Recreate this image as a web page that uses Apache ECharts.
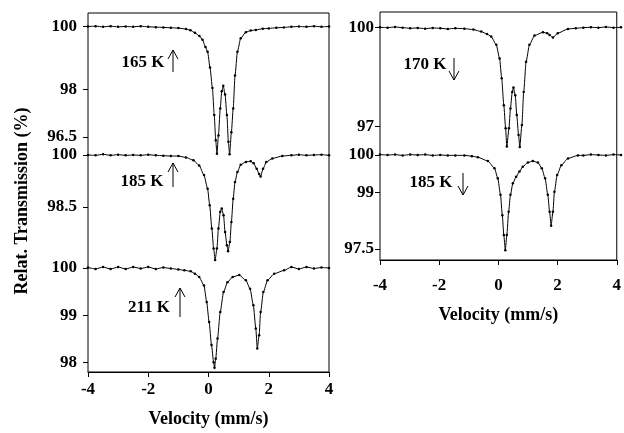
<!DOCTYPE html>
<html>
<head>
<meta charset="utf-8">
<script src="https://cdn.jsdelivr.net/npm/echarts@6/dist/echarts.min.js"></script>
<style>
  html, body { margin: 0; padding: 0; background: #fff; }
  #chart { width: 624px; height: 433px; }
</style>
</head>
<body>
<div id="chart"></div>
<script>
// velocity (mm/s) and relative transmission (%)
var v165 = [-4, -3.75, -3.5, -3.25, -3, -2.75, -2.5, -2.25, -2, -1.75, -1.5, -1.25, -1, -0.75, -0.6, -0.45, -0.3, -0.2, -0.1, -0.03, 0.05, 0.13, 0.19, 0.24, 0.28, 0.33, 0.39, 0.44, 0.49, 0.55, 0.61, 0.66, 0.7, 0.76, 0.82, 0.88, 0.96, 1.07, 1.24, 1.4, 1.57, 1.8, 2.0, 2.25, 2.5, 2.75, 3, 3.25, 3.5, 3.75, 4];
var t165 = [100.0, 100.01, 99.99, 100.01, 99.99, 100.0, 99.99, 100.01, 99.99, 99.98, 99.97, 99.96, 99.95, 99.92, 99.88, 99.8, 99.7, 99.58, 99.35, 99.2, 98.7, 98.05, 97.2, 96.4, 95.97, 96.55, 97.4, 97.95, 98.12, 97.85, 97.2, 96.35, 95.95, 96.65, 97.4, 98.45, 99.2, 99.63, 99.82, 99.87, 99.89, 99.93, 99.94, 99.96, 99.97, 99.99, 100.0, 99.99, 100.01, 99.99, 100.0];

var v185a = [-4, -3.75, -3.5, -3.25, -3, -2.75, -2.5, -2.25, -2, -1.75, -1.5, -1.25, -1, -0.75, -0.5, -0.31, -0.15, -0.03, 0.04, 0.11, 0.17, 0.22, 0.28, 0.33, 0.39, 0.44, 0.5, 0.55, 0.61, 0.65, 0.71, 0.76, 0.82, 0.88, 0.96, 1.07, 1.24, 1.4, 1.5, 1.6, 1.68, 1.73, 1.81, 1.92, 2.12, 2.45, 2.75, 3, 3.25, 3.5, 3.75, 4];
var t185a = [100.0, 99.99, 100.02, 99.99, 100.01, 99.99, 100.0, 99.99, 100.01, 99.99, 99.98, 99.97, 99.97, 99.93, 99.85, 99.7, 99.42, 99.03, 98.55, 97.88, 97.3, 96.97, 97.3, 97.88, 98.36, 98.46, 98.26, 97.78, 97.4, 97.22, 97.49, 98.07, 98.74, 99.22, 99.51, 99.72, 99.8, 99.82, 99.76, 99.6, 99.45, 99.38, 99.6, 99.8, 99.9, 99.97, 99.99, 100.01, 99.99, 100.0, 100.01, 99.99];

var v211 = [-4, -3.75, -3.5, -3.25, -3, -2.75, -2.5, -2.25, -2, -1.75, -1.5, -1.25, -1, -0.8, -0.59, -0.45, -0.31, -0.15, -0.06, 0.02, 0.1, 0.17, 0.2, 0.24, 0.3, 0.39, 0.5, 0.63, 0.8, 1.02, 1.24, 1.38, 1.49, 1.57, 1.62, 1.68, 1.73, 1.82, 1.96, 2.18, 2.51, 2.75, 3, 3.25, 3.5, 3.75, 4];
var t211 = [100.01, 99.98, 100.02, 99.98, 100.02, 99.98, 100.02, 99.99, 100.02, 99.98, 100.01, 99.99, 99.97, 99.95, 99.93, 99.88, 99.81, 99.63, 99.28, 98.86, 98.37, 98.01, 97.89, 98.08, 98.51, 99.07, 99.49, 99.7, 99.81, 99.85, 99.74, 99.56, 99.21, 98.72, 98.3, 98.58, 99.07, 99.49, 99.74, 99.88, 99.95, 100.02, 99.98, 100.02, 99.99, 100.01, 100.0];

var v170 = [-4, -3.75, -3.5, -3.25, -3, -2.75, -2.5, -2.25, -2, -1.75, -1.5, -1.2, -0.9, -0.64, -0.45, -0.31, -0.14, -0.03, 0.04, 0.11, 0.17, 0.21, 0.28, 0.33, 0.39, 0.43, 0.49, 0.54, 0.6, 0.64, 0.71, 0.77, 0.85, 0.96, 1.13, 1.41, 1.55, 1.63, 1.74, 1.9, 2.24, 2.5, 2.75, 3, 3.25, 3.5, 3.75, 4];
var t170 = [100.0, 99.99, 100.01, 99.99, 99.97, 99.98, 99.96, 99.98, 99.97, 99.95, 99.97, 99.96, 99.93, 99.87, 99.8, 99.72, 99.47, 99.06, 98.46, 97.65, 96.95, 96.4, 96.95, 97.55, 98.05, 98.18, 97.95, 97.35, 96.75, 96.39, 97.05, 98.05, 98.96, 99.47, 99.75, 99.85, 99.82, 99.77, 99.69, 99.82, 99.95, 99.97, 99.99, 100.0, 99.99, 100.01, 99.99, 100.0];

var v185b = [-4, -3.75, -3.5, -3.25, -3, -2.75, -2.5, -2.25, -2, -1.75, -1.5, -1.2, -0.95, -0.75, -0.42, -0.2, -0.09, 0.0, 0.06, 0.11, 0.16, 0.21, 0.27, 0.33, 0.41, 0.52, 0.63, 0.74, 0.91, 1.07, 1.24, 1.37, 1.48, 1.57, 1.63, 1.68, 1.74, 1.79, 1.88, 2.02, 2.24, 2.57, 2.75, 3, 3.25, 3.5, 3.75, 4];
var t185b = [100.01, 100.0, 100.01, 99.99, 100.01, 100.0, 100.01, 99.99, 100.0, 99.99, 99.99, 99.99, 99.97, 99.94, 99.84, 99.65, 99.38, 98.94, 98.4, 97.87, 97.47, 97.87, 98.49, 98.94, 99.25, 99.42, 99.56, 99.69, 99.8, 99.84, 99.8, 99.65, 99.38, 98.94, 98.49, 98.12, 98.49, 99.02, 99.47, 99.73, 99.91, 99.99, 99.99, 100.01, 100.0, 99.99, 100.01, 100.0];

// tick values of each spectrum's own y scale
var ticks165 = [96.5, 98, 100];
var ticks185a = [98.5, 100];
var ticks211 = [98, 99, 100];
var ticks170 = [97, 100];
var ticks185b = [97.5, 99, 100];

var font = '"Liberation Serif", "Times New Roman", serif';

function zip(v, t) {
  return v.map(function (x, i) { return [x, t[i]]; });
}

function frameX(idx, nameGap, margin) {
  return {
    gridIndex: idx, type: 'value', min: -4, max: 4, interval: 2,
    name: 'Velocity (mm/s)', nameLocation: 'middle', nameGap: nameGap,
    nameTextStyle: { fontFamily: font, fontWeight: 'bold', fontSize: 18, color: '#000' },
    axisLine: { onZero: false, lineStyle: { color: '#000', width: 1 } },
    axisTick: { length: 5, lineStyle: { color: '#000' } },
    axisLabel: { fontFamily: font, fontWeight: 'bold', fontSize: 17, color: '#000', margin: margin },
    splitLine: { show: false }
  };
}

function hiddenX(idx) {
  return { gridIndex: idx, type: 'value', min: -4, max: 4, show: false, axisLine: { onZero: false } };
}

function specY(idx, min, max, ticks, margin) {
  return {
    gridIndex: idx, type: 'value', min: min, max: max,
    axisLine: { show: false, onZero: false },
    axisTick: { show: true, length: 5, customValues: ticks, lineStyle: { color: '#000' } },
    axisLabel: { customValues: ticks, fontFamily: font, fontWeight: 'bold', fontSize: 17, color: '#000', margin: margin },
    splitLine: { show: false }
  };
}

function spec(idx, v, t) {
  return {
    type: 'line', xAxisIndex: idx, yAxisIndex: idx,
    data: zip(v, t), clip: false,
    smooth: 0.2, smoothMonotone: 'x',
    symbol: 'circle', symbolSize: 2.5,
    itemStyle: { color: '#000' },
    lineStyle: { color: '#000', width: 1 }
  };
}

// temperature label with a thin arrow (dir -1 = up, 1 = down)
function label(x, y, text, ax, y0, y1, dir) {
  var tip = dir < 0 ? Math.min(y0, y1) : Math.max(y0, y1);
  return [
    { type: 'text', x: x, y: y, style: { text: text, fill: '#000', font: 'bold 17px ' + font, align: 'center', verticalAlign: 'middle' } },
    { type: 'line', shape: { x1: ax, y1: y0, x2: ax, y2: y1 }, style: { stroke: '#000', lineWidth: 1 } },
    { type: 'polyline', shape: { points: [[ax - 5, tip - dir * 9], [ax, tip], [ax + 5, tip - dir * 9]] }, style: { stroke: '#000', lineWidth: 1, fill: null } }
  ];
}

var chart = echarts.init(document.getElementById('chart'));

var option = {
  backgroundColor: '#fff',
  animation: false,
  grid: [
    { left: 88, top: 13, width: 241, height: 360, show: true, borderColor: '#000', borderWidth: 1 },
    { left: 88, top: 26.5, width: 241, height: 110.5 },
    { left: 88, top: 155, width: 241, height: 52 },
    { left: 88, top: 268, width: 241, height: 94.6 },
    { left: 380, top: 12, width: 241, height: 248, show: true, borderColor: '#000', borderWidth: 1 },
    { left: 380, top: 27.3, width: 241, height: 99.4 },
    { left: 380, top: 155, width: 241, height: 94 }
  ],
  xAxis: [
    frameX(0, 38, 9), hiddenX(1), hiddenX(2), hiddenX(3),
    frameX(4, 46, 17), hiddenX(5), hiddenX(6)
  ],
  yAxis: [
    { gridIndex: 0, type: 'value', show: false },
    specY(1, 96.5, 100, ticks165, 11),
    specY(2, 98.5, 100, ticks185a, 11),
    specY(3, 98, 100, ticks211, 11),
    { gridIndex: 4, type: 'value', show: false },
    specY(5, 97, 100, ticks170, 6),
    specY(6, 97.5, 100, ticks185b, 6)
  ],
  series: [
    spec(1, v165, t165),
    spec(2, v185a, t185a),
    spec(3, v211, t211),
    spec(5, v170, t170),
    spec(6, v185b, t185b)
  ],
  graphic: [
    { type: 'text', x: 22, y: 201, rotation: Math.PI / 2,
      style: { text: 'Relat. Transmission (%)', fill: '#000', font: 'bold 18px ' + font, align: 'center', verticalAlign: 'middle' } }
  ].concat(
    label(143, 63, '165 K', 173, 72, 50, -1),
    label(142, 182, '185 K', 173, 187, 163, -1),
    label(149, 308, '211 K', 180, 317, 288, -1),
    label(425, 65, '170 K', 454, 58, 80, 1),
    label(431, 183, '185 K', 463, 173, 195, 1)
  )
};

chart.setOption(option);
window.addEventListener('resize', function () { chart.resize(); });
</script>
</body>
</html>
